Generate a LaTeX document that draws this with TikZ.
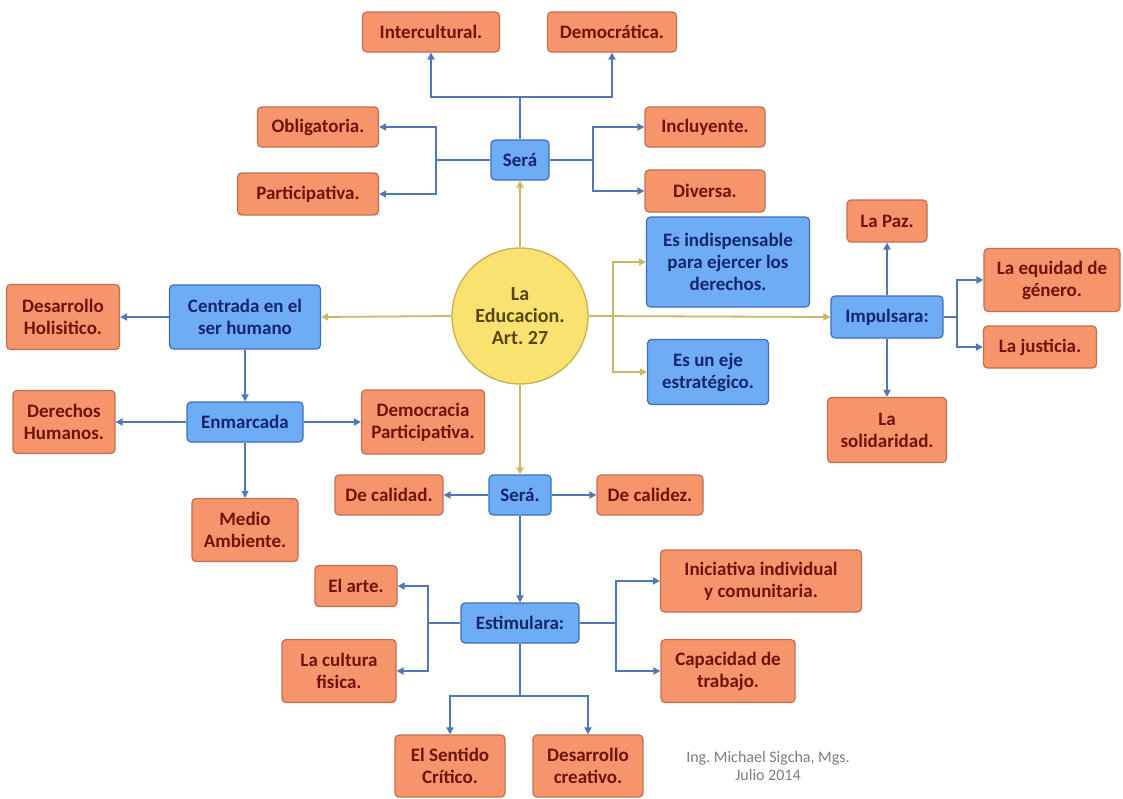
\documentclass[tikz,border=0pt]{standalone}
\usepackage{fontspec}
\setmainfont{Carlito}
\usetikzlibrary{arrows.meta}
\definecolor{ofill}{RGB}{246,148,108}
\definecolor{oline}{RGB}{196,110,80}
\definecolor{otext}{RGB}{110,20,10}
\definecolor{bfill}{RGB}{110,172,246}
\definecolor{bline}{RGB}{62,110,188}
\definecolor{btext}{RGB}{22,38,108}
\definecolor{cfill}{RGB}{250,226,112}
\definecolor{cline}{RGB}{205,178,82}
\definecolor{ctext}{RGB}{88,70,10}
\definecolor{blink}{RGB}{78,120,182}
\definecolor{ylink}{RGB}{204,184,96}
\definecolor{credit}{RGB}{125,125,125}
\tikzset{
  obox/.style={draw=oline, fill=ofill, line width=1.2pt, rounded corners=4pt, text=otext,
    font=\fontsize{19}{22}\selectfont\bfseries, align=center, inner sep=1pt},
  bbox/.style={draw=bline, fill=bfill, line width=1.2pt, rounded corners=4pt, text=btext,
    font=\fontsize{19}{22}\selectfont\bfseries, align=center, inner sep=1pt},
  blue link/.style={draw=blink, line width=1.8pt},
  blue arrow/.style={blue link, -{Triangle[length=7pt,width=7pt]}},
  yel link/.style={draw=ylink, line width=1.8pt},
  yel arrow/.style={yel link, -{Triangle[length=7pt,width=7pt]}},
}
\begin{document}
\begin{tikzpicture}[x=1pt,y=-1pt]
\useasboundingbox (0,0) rectangle (1123,798);
% centre
\node[circle, draw=cline, fill=cfill, line width=1.4pt, minimum size=136pt, text=ctext,
  font=\fontsize{20}{22}\selectfont\bfseries, align=center, inner sep=0pt]
  (circ) at (520,316) {La\\Educacion.\\Art.\ 27};
% top Será
\node[bbox, minimum width=58pt, minimum height=40pt] (s1) at (520,160) {Será};
\node[obox, minimum width=137pt, minimum height=40pt] (intercult) at (431,32) {Intercultural.};
\node[obox, minimum width=129pt, minimum height=40pt] (democ) at (612,32) {Democrática.};
\node[obox, minimum width=121pt, minimum height=40pt] (oblig) at (318,127) {Obligatoria.};
\node[obox, minimum width=141pt, minimum height=42pt] (partic) at (308,194) {Participativa.};
\node[obox, minimum width=120pt, minimum height=40pt] (incluy) at (705,127) {Incluyente.};
\node[obox, minimum width=120pt, minimum height=42pt] (divers) at (705,191) {Diversa.};
% left
\node[bbox, minimum width=151pt, minimum height=64pt] (centr) at (245,317) {Centrada en el\\ser humano};
\node[obox, minimum width=113pt, minimum height=65pt] (desarr) at (63,317) {Desarrollo\\Holisitico.};
\node[bbox, minimum width=116pt, minimum height=40pt] (enmarc) at (245,422) {Enmarcada};
\node[obox, minimum width=102pt, minimum height=63pt] (derech) at (64,422) {Derechos\\Humanos.};
\node[obox, minimum width=123pt, minimum height=64pt] (democp) at (423,422) {Democracia\\Participativa.};
\node[obox, minimum width=106pt, minimum height=63pt] (medio) at (245,530) {Medio\\Ambiente.};
% right
\node[bbox, minimum width=163pt, minimum height=90pt] (esind) at (728,262) {Es indispensable\\para ejercer los\\derechos.};
\node[bbox, minimum width=121pt, minimum height=65pt] (eseje) at (708,372) {Es un eje\\estratégico.};
\node[bbox, minimum width=112pt, minimum height=42pt] (impuls) at (887,317) {Impulsara:};
\node[obox, minimum width=80pt, minimum height=42pt] (paz) at (887,221) {La Paz.};
\node[obox, minimum width=136pt, minimum height=63pt] (equid) at (1052,280) {La equidad de\\género.};
\node[obox, minimum width=113pt, minimum height=42pt] (justi) at (1040,347) {La justicia.};
\node[obox, minimum width=119pt, minimum height=65pt] (solid) at (887,430) {La\\solidaridad.};
% bottom
\node[bbox, minimum width=62pt, minimum height=40pt] (s2) at (520,495) {Será.};
\node[obox, minimum width=108pt, minimum height=40pt] (calidad) at (389,495) {De calidad.};
\node[obox, minimum width=106pt, minimum height=40pt] (calidez) at (650,495) {De calidez.};
\node[bbox, minimum width=118pt, minimum height=40pt] (estim) at (520,623) {Estimulara:};
\node[obox, minimum width=82pt, minimum height=41pt] (arte) at (356,586) {El arte.};
\node[obox, minimum width=114pt, minimum height=63pt] (cultura) at (339,671) {La cultura\\fisica.};
\node[obox, minimum width=201pt, minimum height=62pt] (inic) at (761,581) {Iniciativa individual\\y comunitaria.};
\node[obox, minimum width=134pt, minimum height=63pt] (capac) at (728,671) {Capacidad de\\trabajo.};
\node[obox, minimum width=110pt, minimum height=62pt] (sentido) at (450,766) {El Sentido\\Crítico.};
\node[obox, minimum width=110pt, minimum height=62pt] (creat) at (588,766) {Desarrollo\\creativo.};
\node[text=credit, font=\fontsize{16}{18}\selectfont, align=center] (credit) at (768,766) {Ing.\ Michael Sigcha, Mgs.\\Julio 2014};
% junction coordinates
\coordinate (tj) at (520,97);
\coordinate (lj) at (436,160);
\coordinate (rj) at (593,160);
\coordinate (yb) at (613,316);
\coordinate (ij) at (957,317);
\coordinate (elj) at (428,623);
\coordinate (erj) at (616,623);
\coordinate (ebj) at (520,696);
% yellow links
\draw[yel arrow] (circ.north) -- (s1.south);
\draw[yel arrow] (circ.west) -- (centr.east);
\draw[yel arrow] (circ.south) -- (s2.north);
\draw[yel arrow] (circ.east) -- (impuls.west);
\draw[yel arrow] (yb) |- (esind.west);
\draw[yel arrow] (yb) |- (eseje.west);
% top Será links
\draw[blue link] (s1.north) -- (tj);
\draw[blue arrow] (tj) -| (intercult.south);
\draw[blue arrow] (tj) -| (democ.south);
\draw[blue link] (s1.west) -- (lj);
\draw[blue arrow] (lj) |- (oblig.east);
\draw[blue arrow] (lj) |- (partic.east);
\draw[blue link] (s1.east) -- (rj);
\draw[blue arrow] (rj) |- (incluy.west);
\draw[blue arrow] (rj) |- (divers.west);
% left links
\draw[blue arrow] (centr.west) -- (desarr.east);
\draw[blue arrow] (centr.south) -- (enmarc.north);
\draw[blue arrow] (enmarc.west) -- (derech.east);
\draw[blue arrow] (enmarc.east) -- (democp.west);
\draw[blue arrow] (enmarc.south) -- (medio.north);
% Impulsara links
\draw[blue arrow] (impuls.north) -- (paz.south);
\draw[blue arrow] (impuls.south) -- (solid.north);
\draw[blue link] (impuls.east) -- (ij);
\draw[blue arrow] (ij) |- (equid.west);
\draw[blue arrow] (ij) |- (justi.west);
% bottom links
\draw[blue arrow] (s2.west) -- (calidad.east);
\draw[blue arrow] (s2.east) -- (calidez.west);
\draw[blue arrow] (s2.south) -- (estim.north);
\draw[blue link] (estim.west) -- (elj);
\draw[blue arrow] (elj) |- (arte.east);
\draw[blue arrow] (elj) |- (cultura.east);
\draw[blue link] (estim.east) -- (erj);
\draw[blue arrow] (erj) |- (inic.west);
\draw[blue arrow] (erj) |- (capac.west);
\draw[blue link] (estim.south) -- (ebj);
\draw[blue arrow] (ebj) -| (sentido.north);
\draw[blue arrow] (ebj) -| (creat.north);
\end{tikzpicture}
\end{document}
